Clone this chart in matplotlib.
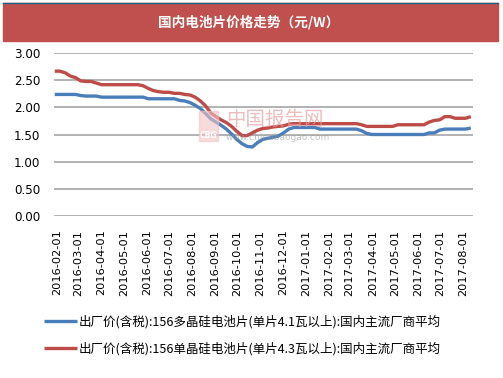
import matplotlib
matplotlib.use("Agg")
import matplotlib.pyplot as plt
import matplotlib.dates as mdates
from matplotlib.patches import Rectangle
import numpy as np

plt.rcParams["font.family"] = ["Noto Sans CJK SC", "DejaVu Sans"]

# weekly observations
dates = np.arange(np.datetime64("2016-01-29"), np.datetime64("2017-08-12"), np.timedelta64(7, "D"))

poly = [2.24, 2.24, 2.24, 2.24, 2.24, 2.22, 2.21, 2.21, 2.21, 2.19,
        2.19, 2.19, 2.19, 2.19, 2.19, 2.19, 2.19, 2.19, 2.16, 2.16,
        2.16, 2.16, 2.16, 2.16, 2.13, 2.12, 2.09, 2.04, 1.98, 1.89,
        1.79, 1.73, 1.67, 1.60, 1.51, 1.41, 1.33, 1.28, 1.27, 1.35,
        1.41, 1.43, 1.45, 1.47, 1.53, 1.60, 1.63, 1.63, 1.63, 1.63,
        1.63, 1.60, 1.60, 1.60, 1.60, 1.60, 1.60, 1.60, 1.60, 1.57,
        1.52, 1.50, 1.50, 1.50, 1.50, 1.50, 1.50, 1.50, 1.50, 1.50,
        1.50, 1.50, 1.53, 1.53, 1.58, 1.60, 1.60, 1.60, 1.60, 1.60,
        1.62]

mono = [2.67, 2.67, 2.64, 2.58, 2.55, 2.49, 2.48, 2.48, 2.45, 2.42,
        2.42, 2.42, 2.42, 2.42, 2.42, 2.42, 2.42, 2.40, 2.35, 2.31,
        2.29, 2.28, 2.28, 2.26, 2.26, 2.24, 2.23, 2.19, 2.12, 2.03,
        1.90, 1.83, 1.77, 1.72, 1.65, 1.56, 1.48, 1.48, 1.53, 1.58,
        1.61, 1.62, 1.64, 1.65, 1.66, 1.69, 1.70, 1.70, 1.70, 1.70,
        1.70, 1.70, 1.70, 1.70, 1.70, 1.70, 1.70, 1.70, 1.70, 1.68,
        1.65, 1.65, 1.65, 1.65, 1.65, 1.65, 1.68, 1.68, 1.68, 1.68,
        1.68, 1.68, 1.73, 1.76, 1.77, 1.83, 1.83, 1.80, 1.80, 1.80,
        1.83]

title = "国内电池片价格走势（元/W）"
labels = ["出厂价(含税):156多晶硅电池片(单片4.1瓦以上):国内主流厂商平均",
          "出厂价(含税):156单晶硅电池片(单片4.3瓦以上):国内主流厂商平均"]
colors = ["#4A7EBB", "#BE4B48"]
yticks = [0.0, 0.5, 1.0, 1.5, 2.0, 2.5, 3.0]

W, H = 503, 378
fig = plt.figure(figsize=(W / 100, H / 100), dpi=100)

# title banner
fig.patches.append(Rectangle((3 / W, 1 - 41 / H), 495 / W, 38 / H,
                             transform=fig.transFigure, color="#C0504D", zorder=0))
fig.add_artist(plt.Line2D([3 / W, 498 / W], [1 - 2.5 / H, 1 - 2.5 / H],
                          transform=fig.transFigure, color="#1F5F8B", lw=1))
fig.text(249 / W, 1 - 22 / H, title, color="white", fontsize=9.8,
         fontweight="bold", ha="center", va="center")

ax = fig.add_axes([54 / W, 1 - 215.7 / H, 419 / W, 162.4 / H])
d = dates.astype("datetime64[D]").astype(object)
for vals, c, lab in zip([poly, mono], colors, labels):
    ax.plot(d, vals, color=c, lw=2.4, label=lab, solid_capstyle="butt", zorder=3)

ax.set_ylim(0, 3)
ax.set_yticks(yticks)
ax.set_yticklabels([f"{v:.2f}" for v in yticks], fontsize=8.6, family="DejaVu Sans")
ax.set_xlim(np.datetime64("2016-01-28").astype(object), np.datetime64("2017-08-14").astype(object))
ax.xaxis.set_major_locator(mdates.MonthLocator(bymonthday=1))
ax.xaxis.set_major_formatter(mdates.DateFormatter("%Y-%m-%d"))
for t in ax.get_xticklabels():
    t.set_rotation(90)
    t.set_fontsize(8.2)
    t.set_family("DejaVu Sans")
ax.tick_params(length=0, pad=10)
ax.tick_params(axis="y", pad=10)
ax.grid(axis="y", color="#A6A6A6", lw=1.2)
for s in ax.spines.values():
    s.set_visible(False)

# watermark
fig.patches.append(Rectangle((199 / W, 1 - 141 / H), 19 / W, 30 / H, transform=fig.transFigure,
                             color="#F2C4C4", alpha=0.6, zorder=5))
fig.text(208.5 / W, 1 - 136 / H, "CBG", color="white", fontsize=5.5, ha="center",
         va="center", fontweight="bold", family="DejaVu Sans", zorder=6)
fig.text(226 / W, 1 - 119 / H, "中国报告网", color="#E8A0A0", alpha=0.7, fontsize=14,
         va="center", zorder=5)
fig.text(226 / W, 1 - 138 / H, "www.chinabaogao.com", color="#9A9A9A", alpha=0.6,
         fontsize=6.5, va="center", family="DejaVu Sans", zorder=5)

fig.legend(loc="upper left", bbox_to_anchor=(39 / W, 1 - 310 / H), frameon=False,
           fontsize=9, handlelength=2.6, handletextpad=0.15, labelspacing=1.05,
           borderaxespad=0)

fig.savefig("out.png", dpi=100)
